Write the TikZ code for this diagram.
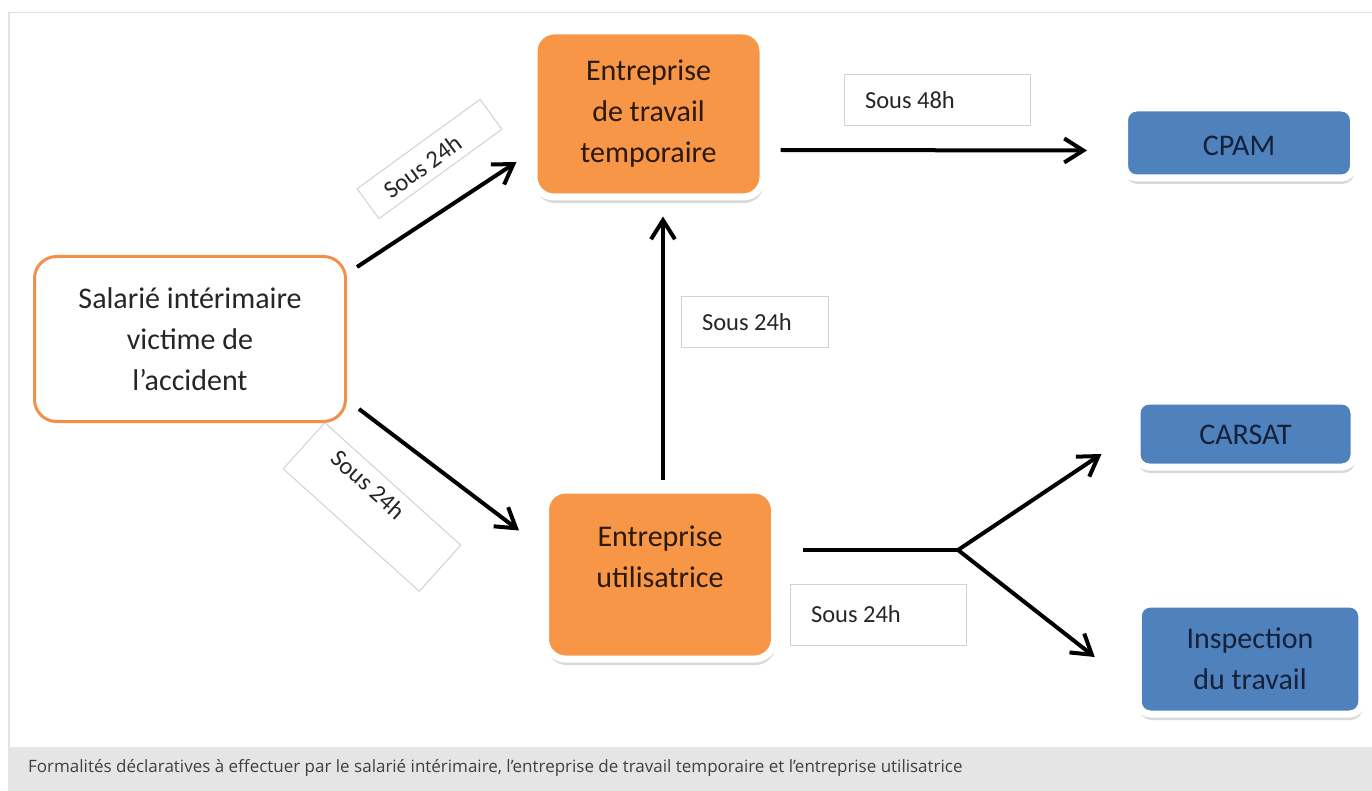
\documentclass[tikz,border=0pt]{standalone}
\usepackage{fontspec}
\setmainfont{Carlito}
\newfontfamily\captionfont{Open Sans}
\usetikzlibrary{arrows.meta,shadows}
\definecolor{ettorange}{HTML}{F79646}
\definecolor{orgblue}{HTML}{4F81BD}
\definecolor{salborder}{HTML}{F0904A}
\definecolor{framegray}{HTML}{E2E2E2}
\definecolor{labelgray}{HTML}{D2D2D2}
\definecolor{bluetext}{HTML}{15213A}
\definecolor{orangetext}{HTML}{2A190C}

\begin{document}
\begin{tikzpicture}[
  x=1pt, y=-1pt,
  every node/.style={font=\fontsize{30}{41}\selectfont},
  salbox/.style={
    rounded corners=22pt, draw=salborder, line width=3pt, fill=white,
    align=center, inner sep=0pt, text=black!85
  },
  boxed/.style={
    rounded corners=20pt, draw=white, line width=7pt,
    drop shadow={shadow xshift=1pt, shadow yshift=-6pt, opacity=0.3},
    align=center, inner sep=0pt
  },
  ettbox/.style={boxed, fill=ettorange, text=orangetext},
  orgbox/.style={boxed, rounded corners=12pt, fill=orgblue, text=bluetext},
  delay/.style={
    draw=labelgray, line width=1pt, fill=white, align=left,
    inner xsep=21pt, inner ysep=0pt, text=black!85,
    font=\fontsize{24.5}{29}\selectfont,
    execute at begin node={\spaceskip=0pt\relax}
  },
  flow/.style={line width=4pt, -{Straight Barb[length=19pt,width=24pt]}}
]
\useasboundingbox (0,0) rectangle (1372,791);
% frame and caption band
\fill[black!10] (8,747) rectangle (1372,791);
\draw[framegray, line width=1.5pt] (8.75,747) -- (8.75,12.75) -- (1372,12.75);
\node[anchor=base west, inner sep=0pt, text=black!75,
  font=\captionfont\fontsize{17}{20}\selectfont] (caption) at (28,772)
  {Formalités déclaratives à effectuer par le salarié intérimaire, l’entreprise de travail temporaire et l’entreprise utilisatrice};

% actors
\node[salbox, minimum width=311pt, minimum height=165pt] (sal) at (190,339)
  {Salarié intérimaire\\victime de\\l’accident};
\node[ettbox, minimum width=229pt, minimum height=166pt] (ett) at (648.5,114)
  {Entreprise\\de travail\\temporaire};
\node[ettbox, minimum width=229pt, minimum height=169pt] (eu) at (660,574.5) {};
\node[align=center, text=orangetext] (eutext) at ([yshift=17.5pt]eu.center)
  {Entreprise\\utilisatrice};

% organismes
\node[orgbox, minimum width=229pt, minimum height=70pt, text height=25pt] (cpam) at (1239,143) {CPAM};
\node[orgbox, minimum width=217pt, minimum height=66pt, text height=22pt] (carsat) at (1245.5,434) {CARSAT};
\node[orgbox, minimum width=223.5pt, minimum height=110pt] (insp) at (1250,659)
  {Inspection\\du travail};

% flows
\draw[flow] ([xshift=10pt,yshift=-12pt]sal.north east) -- ([xshift=-14pt,yshift=-48pt]ett.west);
\draw[flow] ([xshift=12pt,yshift=14pt]sal.south east) -- ([xshift=-23pt,yshift=44pt]eu.west);
\draw[flow] ([xshift=3pt,yshift=7pt]eu.north) -- ([xshift=14.5pt,yshift=-16pt]ett.south);
\draw[flow] ([xshift=14pt,yshift=-36pt]ett.east) -- ([xshift=-34pt,yshift=-7.5pt]cpam.west);
\coordinate (split) at (958,550);
\draw[line width=4pt] ([xshift=25pt,yshift=24.5pt]eu.east) -- (split);
\draw[flow] (split) -- ([xshift=-32pt,yshift=-20pt]carsat.west);
\draw[flow] (split) -- ([xshift=-40pt,yshift=2pt]insp.west);

% delays
\node[delay, rotate=36, text width=110pt, text height=29pt, text depth=8pt]
  (d24a) at (429.5,159) {Sous 24h};
\node[delay, rotate=-42, inner xsep=29pt, text width=125pt, text height=25pt, text depth=37pt]
  (d24b) at (372,507) {Sous 24h};
\node[delay, text width=144pt, minimum height=51pt] (d48) at (937,100.5) {Sous 48h};
\node[delay, text width=105pt, minimum height=50pt] (d24c) at (754.5,322) {Sous 24h};
\node[delay, text width=134pt, minimum height=61pt] (d24d) at (878,614.5) {Sous 24h};
\end{tikzpicture}
\end{document}
